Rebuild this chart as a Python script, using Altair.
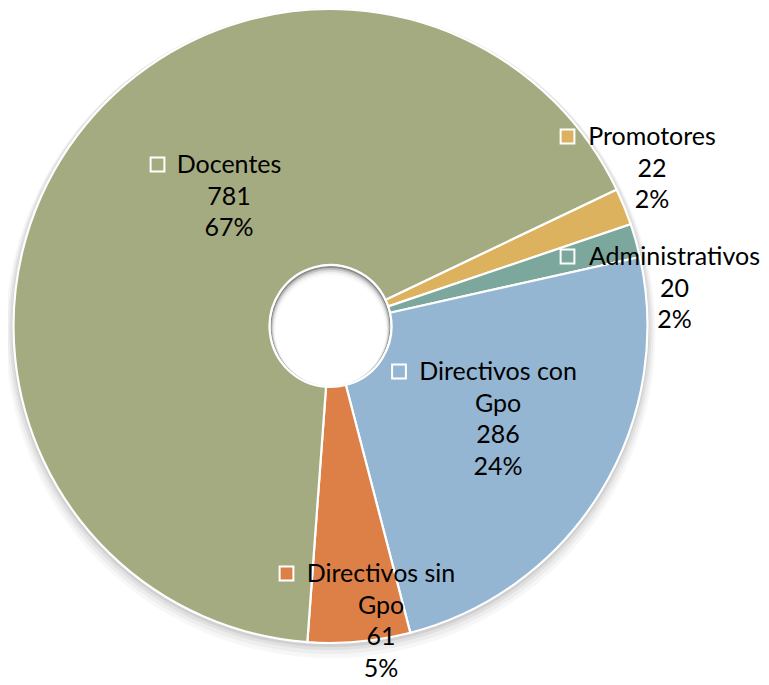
import math
import altair as alt
import pandas as pd

# ---- data ----
categories = ["Promotores", "Administrativos", "Directivos con Gpo", "Directivos sin Gpo", "Docentes"]
values = [22, 20, 286, 61, 781]
colors = ["#DDB25F", "#7BA79D", "#94B6D2", "#DD8047", "#A5AB81"]
name_lines = ["Promotores", "Administrativos", "Directivos con\nGpo", "Directivos sin\nGpo", "Docentes"]

# ---- layout (label placement relative to pie centre, first-line baseline) ----
label_dx = [321.5, 344, 167.5, 50.5, -101.5]
label_dy = [-181, -61, 54, 256, -153]
first_line_width = [128, 173, 157, 148, 102]

CX, CY = 322.5, 318.0
R_OUT, R_IN = 317, 61
START = math.radians(64.5)

total = sum(values)
pie_df = pd.DataFrame({"category": categories, "value": values, "idx": list(range(len(values)))})

lab_rows = []
for c, v, n, dx, dy, w in zip(categories, values, name_lines, label_dx, label_dy, first_line_width):
    pct = round(v / total * 100)
    lx = CX + dx
    ly = CY + dy
    lab_rows.append({
        "category": c,
        "label": f"{n}\n{v}\n{pct}%",
        "lx": lx, "ly": ly,
        "sx": lx - w / 2 - 20.5, "sy": ly - 8.5,
    })
lab_df = pd.DataFrame(lab_rows)

color = alt.Color("category:N", scale=alt.Scale(domain=categories, range=colors), legend=None)
one = pd.DataFrame({"k": [0]})

layers = []
# soft drop shadow
for r, off, op in [(319, 2, 0.07), (321, 3, 0.05), (323, 5, 0.04), (325, 7, 0.03)]:
    layers.append(
        alt.Chart(one).mark_arc(radius=r, innerRadius=64, theta=0, theta2=2 * math.pi,
                                color="black", opacity=op)
        .encode(x=alt.value(CX), y=alt.value(CY + off))
    )
# hole inner shadow
layers.append(
    alt.Chart(one).mark_arc(radius=60, theta=0, theta2=2 * math.pi, color="#8c8c8c")
    .encode(x=alt.value(CX), y=alt.value(CY))
)
for r, off, op in [(59, 1, 0.45), (58, 2, 0.5), (57, 3, 0.6), (56, 4, 0.7), (55, 5, 1.0)]:
    layers.append(
        alt.Chart(one).mark_arc(radius=r, theta=0, theta2=2 * math.pi, color="white", opacity=op)
        .encode(x=alt.value(CX), y=alt.value(CY + off))
    )

pie = alt.Chart(pie_df).mark_arc(radius=R_OUT, innerRadius=R_IN, stroke="white", strokeWidth=2.2).encode(
    theta=alt.Theta("value:Q", stack=True, scale=alt.Scale(range=[START, START + 2 * math.pi])),
    order=alt.Order("idx:Q"),
    color=color,
    x=alt.value(CX), y=alt.value(CY),
)
layers.append(pie)

squares = alt.Chart(lab_df).mark_square(size=190, stroke="white", strokeWidth=2, opacity=1, filled=True).encode(
    x=alt.X("sx:Q", scale=None, axis=None),
    y=alt.Y("sy:Q", scale=None, axis=None),
    color=color,
)
texts = alt.Chart(lab_df).mark_text(
    font="Lato", fontSize=25, lineBreak="\n", lineHeight=31.7, align="center",
    baseline="alphabetic", color="black",
).encode(
    x=alt.X("lx:Q", scale=None, axis=None),
    y=alt.Y("ly:Q", scale=None, axis=None),
    text="label:N",
)
layers += [squares, texts]

chart = alt.layer(*layers).properties(
    width=753, height=677, autosize="none", padding=0
).configure_view(stroke=None)

chart.save("out.html", embed_options={"renderer": "svg", "actions": False})
